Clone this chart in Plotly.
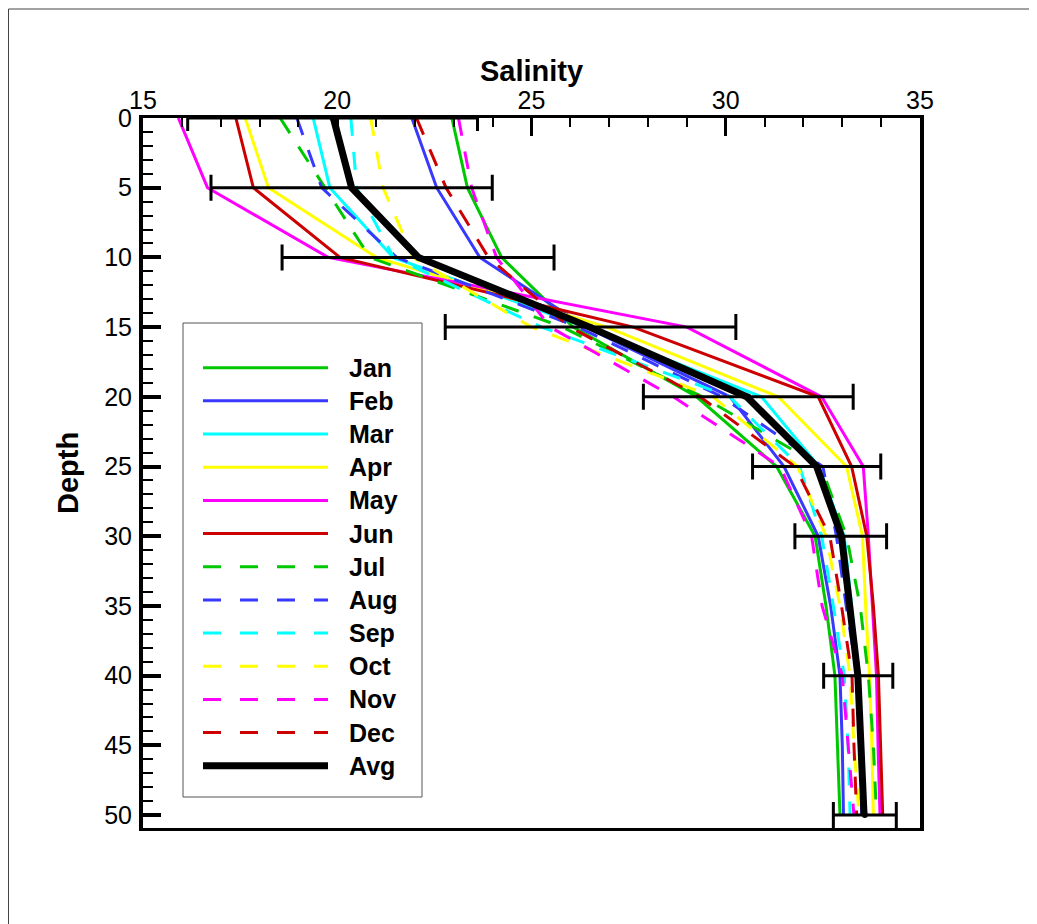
import plotly.graph_objects as go

# ---------------- data ----------------
depths = [0, 5, 10, 15, 20, 25, 30, 35, 40, 45, 50]
months = ["Jan", "Feb", "Mar", "Apr", "May", "Jun",
          "Jul", "Aug", "Sep", "Oct", "Nov", "Dec"]

jan = [22.95, 23.35, 24.23, 26.07, 29.25, 31.31, 32.30, 32.58, 32.81, 32.87, 32.94]
feb = [21.92, 22.56, 23.67, 26.40, 30.11, 31.50, 32.38, 32.70, 32.94, 33.00, 33.03]
mar = [19.38, 19.81, 21.44, 26.40, 30.92, 32.40, 33.05, 33.24, 33.40, 33.48, 33.52]
apr = [17.63, 18.23, 21.01, 26.94, 31.35, 33.11, 33.52, 33.60, 33.70, 33.76, 33.80]
may = [15.91, 16.66, 19.77, 29.00, 32.47, 33.54, 33.67, 33.78, 33.88, 33.92, 33.97]
jun = [17.39, 17.84, 20.07, 27.62, 32.38, 33.24, 33.63, 33.80, 33.93, 33.98, 34.04]
jul = [18.53, 19.68, 20.84, 25.80, 29.40, 32.45, 33.11, 33.46, 33.67, 33.80, 33.88]
aug = [18.96, 19.60, 21.53, 26.20, 29.90, 32.50, 32.85, 33.10, 33.38, 33.45, 33.50]
sep = [20.35, 20.50, 21.45, 25.26, 30.10, 31.90, 32.47, 32.77, 33.05, 33.15, 33.20]
oct_ = [20.86, 21.18, 21.95, 25.00, 29.67, 31.85, 32.58, 32.94, 33.20, 33.30, 33.43]
nov = [23.12, 23.46, 24.10, 25.48, 28.65, 31.40, 32.21, 32.48, 33.00, 33.15, 33.30]
dec = [22.04, 22.80, 23.89, 25.99, 29.34, 31.78, 32.68, 32.98, 33.25, 33.30, 33.37]
avg = [19.90, 20.37, 22.09, 26.50, 30.54, 32.34, 32.98, 33.21, 33.40, 33.48, 33.56]

err_depths = [0, 5, 10, 15, 20, 25, 30, 40, 50]
err_center = [19.88, 20.37, 22.08, 26.52, 30.58, 32.34, 32.96, 33.41, 33.58]
err_half = [3.73, 3.62, 3.50, 3.74, 2.70, 1.65, 1.18, 0.89, 0.81]

x_ticks = [15, 20, 25, 30, 35]
y_ticks = [0, 5, 10, 15, 20, 25, 30, 35, 40, 45, 50]

# ---------------- styles ----------------
series = [jan, feb, mar, apr, may, jun, jul, aug, sep, oct_, nov, dec]
colors = ["#00c800", "#3838ff", "#00ffff", "#ffff00", "#ff00ff", "#cc0000"] * 2
dashes = ["solid"] * 6 + ["18px,16px"] * 6
FONT = "Arial, Liberation Sans, sans-serif"

W, H = 1037, 924
L, R, T, B = 135, 912, 110, 820  # plot-area pixel box (figure coords)

fig = go.Figure()
for name, vals, c, d in zip(months, series, colors, dashes):
    fig.add_trace(go.Scatter(x=vals, y=depths, mode="lines", name=name,
                             line=dict(color=c, width=3, dash=d),
                             showlegend=False))
fig.add_trace(go.Scatter(x=avg, y=depths, mode="lines", name="Avg",
                         line=dict(color="black", width=7), showlegend=False))
fig.add_trace(go.Scatter(x=err_center, y=err_depths, mode="markers",
                         marker=dict(size=0, color="black"),
                         error_x=dict(type="data", array=err_half, symmetric=True,
                                      color="black", thickness=3, width=13),
                         showlegend=False, hoverinfo="skip"))


def px_x(p):
    return (p - L) / (R - L)


def px_y(p):
    return (B - p) / (B - T)


shapes = []
annotations = []
# outer frame (figure border)
shapes.append(dict(type="rect", xref="paper", yref="paper",
                   x0=px_x(0.5), x1=px_x(W - 0.5), y0=px_y(H - 0.5), y1=px_y(1),
                   line=dict(color="#444444", width=1), layer="below"))
# legend box
shapes.append(dict(type="rect", xref="paper", yref="paper",
                   x0=px_x(175), x1=px_x(414), y0=px_y(789), y1=px_y(315),
                   line=dict(color="#555555", width=1), fillcolor="white"))
leg_names = months + ["Avg"]
leg_colors = colors + ["black"]
leg_dash = ["solid"] * 6 + ["18px,19px"] * 6 + ["solid"]
leg_width = [3] * 12 + [7]
for i, (n, c, d, w) in enumerate(zip(leg_names, leg_colors, leg_dash, leg_width)):
    yy = px_y(359.7 + 33.17 * i)
    shapes.append(dict(type="line", xref="paper", yref="paper",
                       x0=px_x(195), x1=px_x(320), y0=yy, y1=yy,
                       line=dict(color=c, width=w, dash=d)))
    annotations.append(dict(xref="paper", yref="paper", x=px_x(339), y=yy,
                            text="<b>%s</b>" % n, showarrow=False,
                            xanchor="left", yanchor="middle",
                            font=dict(family=FONT, size=25, color="black")))

# axis titles
annotations.append(dict(xref="paper", yref="paper", x=0.5, y=px_y(63),
                        text="<b>Salinity</b>", showarrow=False,
                        xanchor="center", yanchor="middle",
                        font=dict(family=FONT, size=29, color="black")))
annotations.append(dict(xref="paper", yref="paper", x=px_x(60), y=0.5,
                        text="<b>Depth</b>", showarrow=False, textangle=-90,
                        xanchor="center", yanchor="middle",
                        font=dict(family=FONT, size=29, color="black")))

fig.update_layout(
    width=W, height=H,
    margin=dict(l=L, r=W - R, t=T, b=H - B, pad=0),
    paper_bgcolor="white", plot_bgcolor="white",
    font=dict(family=FONT, color="black"),
    shapes=shapes, annotations=annotations,
    showlegend=False,
)
fig.update_xaxes(
    side="top", range=[15, 35], tickvals=x_ticks, ticktext=[str(v) for v in x_ticks],
    ticks="inside", ticklen=18, tickwidth=3, tickcolor="black",
    minor=dict(dtick=1, tick0=15, ticks="inside", ticklen=9, tickwidth=1.5, tickcolor="black"),
    showline=True, linecolor="black", linewidth=3, mirror=True,
    showgrid=False, zeroline=False, ticklabelstandoff=-4,
    tickfont=dict(family=FONT, size=25, color="black"),
)
fig.update_yaxes(
    range=[50.93, 0], tickvals=y_ticks, ticktext=[str(v) for v in y_ticks],
    ticks="inside", ticklen=18, tickwidth=4, tickcolor="black",
    minor=dict(dtick=1, tick0=0, ticks="inside", ticklen=10, tickwidth=2, tickcolor="black"),
    showline=True, linecolor="black", linewidth=4, mirror=True,
    showgrid=False, zeroline=False, ticklabelstandoff=2,
    tickfont=dict(family=FONT, size=25, color="black"),
)

fig.write_html("out.html")
